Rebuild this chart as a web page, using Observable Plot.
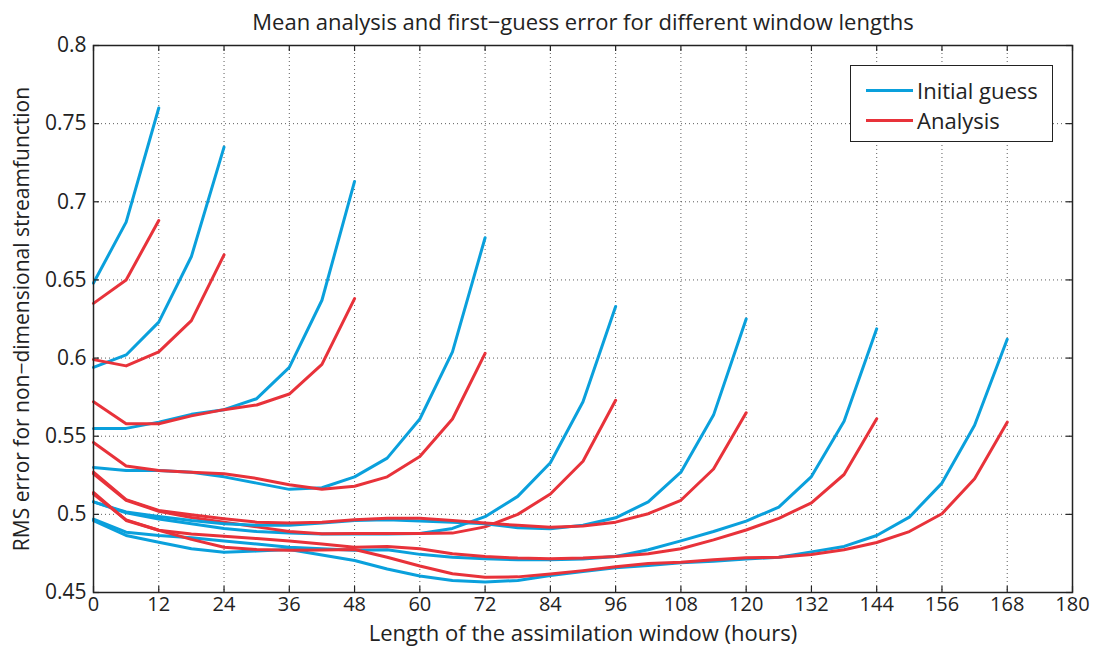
<!DOCTYPE html>
<html>
<head>
<meta charset="utf-8">
<script src="https://cdn.jsdelivr.net/npm/d3@7"></script>
<script src="https://cdn.jsdelivr.net/npm/@observablehq/plot@0.6"></script>
<style>
  body { margin: 0; background: #fff; }
  #wrap { position: relative; width: 1094px; height: 646px; font-family: "Open Sans", sans-serif; }
  #legend { position: absolute; left: 850px; top: 65px; width: 201px; height: 75px; border: 1.5px solid #222; background: #fff; box-sizing: content-box; }
  .lrow { position: absolute; left: 0; height: 30px; width: 100%; }
  .lline { position: absolute; left: 15px; width: 47px; height: 3px; top: 14px; }
  .ltext { position: absolute; left: 66px; top: 0; line-height: 30px; font-size: 22px; color: #222; white-space: nowrap; }
</style>
</head>
<body>
<div id="wrap"></div>
<script>
// ---- data: RMS error vs hour into window, one pair of series per window length ----
const windowLengths = [12, 24, 48, 72, 96, 120, 144, 168];
const stepHours = 6;
const seriesNames = ["Initial guess", "Analysis"];
const seriesColors = ["#0aa0dc", "#e8323a"];

const guess12  = [0.648, 0.687, 0.760];
const anal12   = [0.635, 0.650, 0.688];
const guess24  = [0.594, 0.602, 0.623, 0.665, 0.735];
const anal24   = [0.599, 0.595, 0.604, 0.624, 0.666];
const guess48  = [0.555, 0.555, 0.559, 0.564, 0.567, 0.574, 0.594, 0.637, 0.713];
const anal48   = [0.572, 0.558, 0.558, 0.563, 0.567, 0.570, 0.577, 0.596, 0.638];
const guess72  = [0.530, 0.528, 0.528, 0.527, 0.524, 0.520, 0.516, 0.517, 0.524, 0.536, 0.561, 0.604, 0.677];
const anal72   = [0.546, 0.531, 0.528, 0.527, 0.526, 0.523, 0.519, 0.516, 0.518, 0.524, 0.537, 0.561, 0.603];
const guess96  = [0.508, 0.501, 0.497, 0.494, 0.491, 0.489, 0.488, 0.4875, 0.4875, 0.4875, 0.4878, 0.491, 0.4985, 0.5115, 0.533, 0.572, 0.633];
const anal96   = [0.526, 0.509, 0.502, 0.498, 0.495, 0.492, 0.489, 0.4876, 0.4877, 0.4877, 0.4877, 0.488, 0.492, 0.500, 0.513, 0.534, 0.573];
const guess120 = [0.508, 0.5015, 0.4987, 0.496, 0.494, 0.493, 0.493, 0.4944, 0.4961, 0.4965, 0.4957, 0.495, 0.494, 0.4914, 0.4908, 0.493, 0.4978, 0.508, 0.527, 0.5635, 0.625];
const anal120  = [0.527, 0.5094, 0.5025, 0.4997, 0.4972, 0.495, 0.4944, 0.495, 0.4965, 0.4975, 0.4975, 0.496, 0.4944, 0.493, 0.4918, 0.4925, 0.495, 0.5004, 0.509, 0.529, 0.565];
const guess144 = [0.497, 0.4886, 0.4865, 0.485, 0.483, 0.481, 0.479, 0.478, 0.477, 0.4774, 0.4744, 0.4726, 0.4716, 0.471, 0.471, 0.4715, 0.473, 0.4774, 0.483, 0.489, 0.4957, 0.5046, 0.5242, 0.5596, 0.6187];
const anal144  = [0.514, 0.4961, 0.4898, 0.4875, 0.486, 0.4845, 0.483, 0.481, 0.479, 0.4795, 0.478, 0.4748, 0.473, 0.472, 0.4716, 0.472, 0.473, 0.4748, 0.478, 0.4837, 0.490, 0.4974, 0.5074, 0.5255, 0.5612];
const guess168 = [0.496, 0.4865, 0.4822, 0.478, 0.4758, 0.4765, 0.4775, 0.474, 0.4705, 0.465, 0.4605, 0.4577, 0.4567, 0.4577, 0.4609, 0.4635, 0.4658, 0.4673, 0.469, 0.470, 0.4715, 0.4725, 0.476, 0.4795, 0.4865, 0.4982, 0.520, 0.557, 0.612];
const anal168  = [0.513, 0.4965, 0.4898, 0.484, 0.479, 0.4775, 0.477, 0.4772, 0.4775, 0.4726, 0.467, 0.462, 0.4598, 0.460, 0.4618, 0.464, 0.4665, 0.4685, 0.4694, 0.471, 0.4722, 0.4726, 0.4743, 0.4773, 0.482, 0.489, 0.5004, 0.5228, 0.559];

const guessSeries = [guess12, guess24, guess48, guess72, guess96, guess120, guess144, guess168];
const analSeries  = [anal12, anal24, anal48, anal72, anal96, anal120, anal144, anal168];

const xTicks = [0, 12, 24, 36, 48, 60, 72, 84, 96, 108, 120, 132, 144, 156, 168, 180];
const yTicks = [0.45, 0.5, 0.55, 0.6, 0.65, 0.7, 0.75, 0.8];
const yTickLabels = ["0.45", "0.5", "0.55", "0.6", "0.65", "0.7", "0.75", "0.8"];

const titleText = "Mean analysis and first\u2212guess error for different window lengths";
const xLabel = "Length of the assimilation window (hours)";
const yLabel = "RMS error for non\u2212dimensional streamfunction";

// ---- build table ----
const rows = [];
windowLengths.forEach((L, w) => {
  guessSeries[w].forEach((v, i) => rows.push({hour: i * stepHours, rms: v, series: seriesNames[0], key: "g" + L}));
  analSeries[w].forEach((v, i) => rows.push({hour: i * stepHours, rms: v, series: seriesNames[1], key: "a" + L}));
});

const W = 1094, H = 646;
const mL = 93, mR = 22, mT = 45, mB = 54;
const xDom = [0, 180], yDom = [0.45, 0.8];
const tickPx = 6;
const tkY = (yDom[1] - yDom[0]) * tickPx / (H - mT - mB);
const tkX = (xDom[1] - xDom[0]) * tickPx / (W - mL - mR);

const chart = Plot.plot({
  width: W, height: H,
  marginLeft: mL, marginRight: mR, marginTop: mT, marginBottom: mB,
  style: {fontFamily: "'Open Sans', sans-serif", fontSize: "21px", color: "#222", background: "#fff", overflow: "visible"},
  x: {domain: xDom, ticks: xTicks, label: null},
  y: {domain: yDom, ticks: yTicks, label: null},
  color: {domain: seriesNames, range: seriesColors},
  marks: [
    Plot.gridX(xTicks, {stroke: "#333", strokeOpacity: 0.8, strokeDasharray: "1,3"}),
    Plot.gridY(yTicks, {stroke: "#333", strokeOpacity: 0.8, strokeDasharray: "1,3"}),
    Plot.line(rows, {x: "hour", y: "rms", z: "key", stroke: "series", strokeWidth: 3, strokeLinejoin: "round", curve: "linear"}),
    // inward ticks on all four sides
    Plot.ruleX(xTicks, {x: d => d, y1: yDom[0], y2: yDom[0] + tkY, stroke: "#222", strokeWidth: 1.2}),
    Plot.ruleX(xTicks, {x: d => d, y1: yDom[1], y2: yDom[1] - tkY, stroke: "#222", strokeWidth: 1.2}),
    Plot.ruleY(yTicks, {y: d => d, x1: xDom[0], x2: xDom[0] + tkX, stroke: "#222", strokeWidth: 1.2}),
    Plot.ruleY(yTicks, {y: d => d, x1: xDom[1], x2: xDom[1] - tkX, stroke: "#222", strokeWidth: 1.2}),
    Plot.axisX(xTicks, {anchor: "bottom", tickSize: 0, tickPadding: 4, fontSize: 20, label: null}),
    Plot.axisY(yTicks, {anchor: "left", tickSize: 0, tickPadding: 7, fontSize: 21,
      tickFormat: (d) => yTickLabels[yTicks.indexOf(d)], label: null}),
    Plot.frame({stroke: "#222", strokeWidth: 1.5}),
    Plot.text([titleText], {frameAnchor: "top", dy: -23, fontSize: 22, fill: "#222", lineAnchor: "middle"}),
    Plot.text([xLabel], {frameAnchor: "bottom", dy: 41, fontSize: 22, fill: "#222", lineAnchor: "middle"}),
    Plot.text([yLabel], {frameAnchor: "left", dx: -71, rotate: -90, textAnchor: "middle", fontSize: 21, fill: "#222", lineAnchor: "middle"})
  ]
});

const wrap = document.getElementById("wrap");
wrap.appendChild(chart);

// legend
const legend = document.createElement("div");
legend.id = "legend";
seriesNames.forEach((name, i) => {
  const row = document.createElement("div");
  row.className = "lrow";
  row.style.top = (9 + i * 30) + "px";
  const ln = document.createElement("div");
  ln.className = "lline";
  ln.style.background = seriesColors[i];
  const tx = document.createElement("div");
  tx.className = "ltext";
  tx.textContent = name;
  row.appendChild(ln); row.appendChild(tx);
  legend.appendChild(row);
});
wrap.appendChild(legend);
</script>
</body>
</html>
